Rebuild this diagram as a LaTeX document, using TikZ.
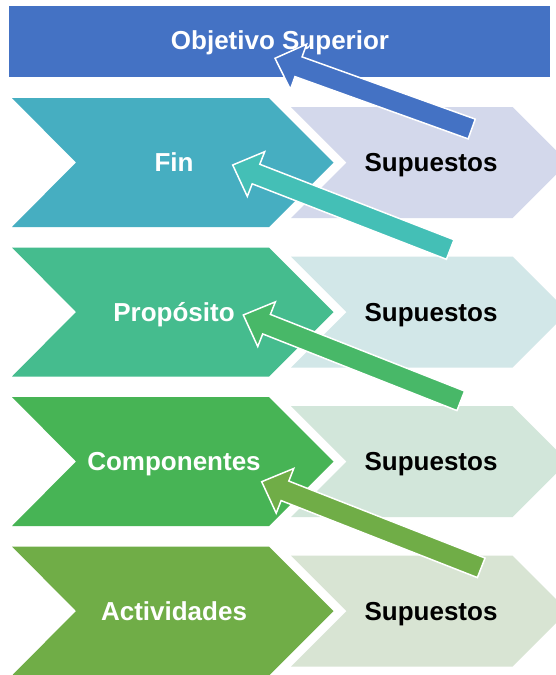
\documentclass[tikz,border=0pt]{standalone}
\usepackage{fontspec}
\setmainfont{Liberation Sans}
\usetikzlibrary{calc}
\definecolor{cbar}{HTML}{4472C4}
\definecolor{cfin}{HTML}{46AEC1}
\definecolor{cfinl}{HTML}{D3D8EB}
\definecolor{cprop}{HTML}{45BC8E}
\definecolor{cpropl}{HTML}{D2E7E8}
\definecolor{ccomp}{HTML}{47B455}
\definecolor{ccompl}{HTML}{D2E6DA}
\definecolor{cact}{HTML}{70AD47}
\definecolor{cactl}{HTML}{D8E4D3}
\definecolor{carA}{HTML}{4472C4}
\definecolor{carB}{HTML}{44BFB6}
\definecolor{carC}{HTML}{48B868}
\definecolor{carD}{HTML}{70AD47}
\tikzset{
  wlbl/.style={font=\bfseries\fontsize{26}{30}\selectfont, text=white, inner sep=0pt, anchor=base},
  blbl/.style={font=\bfseries\fontsize{26}{30}\selectfont, text=black, inner sep=0pt, anchor=base},
  barrow/.style={draw=white, line width=1.5pt, line join=miter},
}
% left chevron: #1 colour, #2 centre y
\newcommand{\leftchev}[2]{%
  \fill[#1] (12,#2-64.5) -- (269,#2-64.5) -- (333.5,#2) -- (269,#2+64.5)
    -- (12,#2+64.5) -- (76,#2) -- cycle;
}
% right chevron: #1 colour, #2 centre y
\newcommand{\rightchev}[2]{%
  \fill[#1] (291,#2-55.5) -- (512.5,#2-55.5) -- (568,#2) -- (512.5,#2+55.5)
    -- (291,#2+55.5) -- (346.5,#2) -- cycle;
}
% block arrow: #1 colour, #2 tail coordinate, #3 tip coordinate
\newcommand{\blockarrow}[3]{%
  \coordinate (bah) at ($(#3)!25pt!(#2)$);
  \draw[barrow, fill=#1] (#3)
    -- ($(bah)!24pt!90:(#2)$)
    -- ($(bah)!10.5pt!90:(#2)$)
    -- ($(#2)!10.5pt!-90:(#3)$)
    -- ($(#2)!10.5pt!90:(#3)$)
    -- ($(bah)!10.5pt!-90:(#2)$)
    -- ($(bah)!24pt!-90:(#2)$)
    -- cycle;
}
\begin{document}
\begin{tikzpicture}[x=1pt,y=-1pt]
\useasboundingbox (0,0) rectangle (556,675);
\fill[white] (0,0) rectangle (556,675);
\clip (0,0) rectangle (556,675);
% top bar
\fill[cbar] (9.3,6) rectangle (550,76.7);
\node[wlbl] (obj) at (280,49) {Objetivo Superior};
% rows
\rightchev{cfinl}{162.5}
\leftchev{cfin}{162.5}
\rightchev{cpropl}{312}
\leftchev{cprop}{312}
\rightchev{ccompl}{461.5}
\leftchev{ccomp}{461.5}
\rightchev{cactl}{611}
\leftchev{cact}{611}
\node[wlbl] (fin) at (174,171.5) {Fin};
\node[blbl] (sup1) at (431,171.5) {Supuestos};
\node[wlbl] (prop) at (174,321) {Propósito};
\node[blbl] (sup2) at (431,321) {Supuestos};
\node[wlbl] (comp) at (174,470.5) {Componentes};
\node[blbl] (sup3) at (431,470.5) {Supuestos};
\node[wlbl] (act) at (174,620) {Actividades};
\node[blbl] (sup4) at (431,620) {Supuestos};
% arrow end points
\coordinate (t1) at (471.7,129);   \coordinate (h1) at (275,58.3);
\coordinate (t2) at (450.2,249.5); \coordinate (h2) at (232.7,165);
\coordinate (t3) at (460.8,400.8); \coordinate (h3) at (243.3,315);
\coordinate (t4) at (481.2,567.8); \coordinate (h4) at (261.7,481.7);
\blockarrow{carA}{t1}{h1}
\blockarrow{carB}{t2}{h2}
\blockarrow{carC}{t3}{h3}
\blockarrow{carD}{t4}{h4}
\end{tikzpicture}
\end{document}
